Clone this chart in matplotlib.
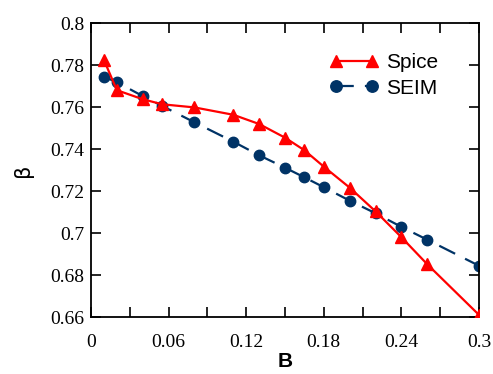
import matplotlib
matplotlib.use("Agg")
import matplotlib.pyplot as plt
from matplotlib.ticker import MultipleLocator, FuncFormatter

b_vals = [0.01, 0.02, 0.04, 0.055, 0.08, 0.11, 0.13, 0.15, 0.165, 0.18, 0.20, 0.22, 0.24, 0.26, 0.30]
spice = [0.7824, 0.768, 0.7637, 0.7613, 0.7598, 0.7563, 0.7519, 0.7454, 0.7394, 0.7316,
         0.7216, 0.7103, 0.698, 0.6851, 0.661]
seim = [0.7744, 0.7718, 0.7652, 0.7605, 0.7527, 0.7435, 0.737, 0.7311, 0.7265, 0.7218,
        0.7154, 0.7094, 0.7029, 0.6968, 0.6844]

fig = plt.figure(figsize=(4.93, 3.74), dpi=100)
ax = fig.add_axes([0.1846, 0.1524, 0.787, 0.7861])

ax.plot(b_vals, spice, color="#ff0000", lw=1.6, marker="^", ms=8, label="Spice", zorder=3)
ax.plot(b_vals, seim, color="#003366", lw=1.6, marker="o", ms=7.5, ls=(0, (8, 5)),
        label="SEIM", zorder=2)

ax.set_xlim(0, 0.3)
ax.set_ylim(0.66, 0.8)
ax.xaxis.set_major_locator(MultipleLocator(0.06))
ax.xaxis.set_minor_locator(MultipleLocator(0.03))
ax.yaxis.set_major_locator(MultipleLocator(0.02))
fmt = FuncFormatter(lambda v, p: ("%.2f" % v).rstrip("0").rstrip(".") if abs(v) > 1e-9 else "0")
ax.xaxis.set_major_formatter(fmt)
ax.yaxis.set_major_formatter(fmt)
ax.tick_params(which="both", direction="in", top=True, right=True, length=7, width=1.2)
for lab in ax.get_xticklabels() + ax.get_yticklabels():
    lab.set_fontfamily("Liberation Serif")
    lab.set_fontsize(14)
ax.tick_params(axis="x", pad=12)
ax.tick_params(axis="y", pad=5)
for s in ax.spines.values():
    s.set_linewidth(1.3)

ax.set_xlabel("B", fontsize=15, fontweight="bold", family="Liberation Sans", labelpad=1)
ax.set_ylabel("β", fontsize=15, family="DejaVu Sans", labelpad=12)

leg = ax.legend(loc="upper left", bbox_to_anchor=(0.595, 0.925), frameon=False,
                prop={"family": "Liberation Sans", "size": 15}, handlelength=2.3,
                handletextpad=0.4, labelspacing=0.3, numpoints=2, borderaxespad=0,
                markerscale=1.1)

fig.savefig("out.png", dpi=100)
